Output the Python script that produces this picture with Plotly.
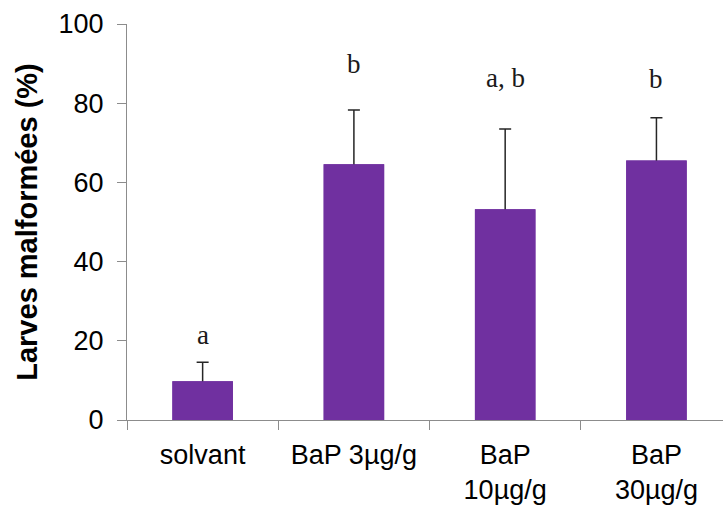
import plotly.graph_objects as go

# Malformed larvae per treatment (mean % and standard deviation)
categories = ["solvant", "BaP 3µg/g", "BaP<br>10µg/g", "BaP<br>30µg/g"]
means = [9.8, 64.6, 53.2, 65.5]
sd_upper = [4.8, 13.7, 20.3, 10.8]
letters = ["a", "b", "a, b", "b"]
letter_y = [21.5, 90.0, 86.4, 86.0]
y_ticks = [0, 20, 40, 60, 80, 100]

x_pos = list(range(len(categories)))
axis_grey = "#8c8c8c"
purple = "#7030A0"
bar_width = 0.40

fig = go.Figure()

# Bars carrying symmetric error bars; the lower half is hidden by the
# second, identical bar layer drawn on top.
fig.add_trace(go.Bar(
    x=x_pos,
    y=means,
    width=bar_width,
    marker=dict(color=purple, line=dict(width=0)),
    error_y=dict(
        type="data",
        array=sd_upper,
        color="#262626",
        thickness=1.5,
        width=6,
    ),
    showlegend=False,
))
fig.add_trace(go.Bar(
    x=x_pos,
    y=means,
    width=bar_width,
    marker=dict(color=purple, line=dict(width=0)),
    showlegend=False,
    hoverinfo="skip",
))

# Invisible trace carrying the category boundary ticks
fig.add_trace(go.Scatter(
    x=[-0.5, 3.5], y=[0, 0], xaxis="x2", mode="markers",
    marker=dict(opacity=0), showlegend=False, hoverinfo="skip",
))

for xi, txt, yy in zip(x_pos, letters, letter_y):
    fig.add_annotation(
        x=xi, y=yy, text=txt, showarrow=False,
        font=dict(family="Liberation Serif", size=27, color="#1a1a1a"),
        xanchor="center", yanchor="middle",
    )

x_range = [-0.5, 3.44]
tick_font = dict(family="Liberation Sans", size=27, color="#000000")

fig.update_layout(
    width=723,
    height=513,
    margin=dict(l=127, r=0, t=24, b=93),
    paper_bgcolor="white",
    plot_bgcolor="white",
    barmode="overlay",
    xaxis=dict(
        range=x_range,
        tickmode="array",
        tickvals=x_pos,
        ticktext=categories,
        ticks="",
        showline=True,
        linecolor=axis_grey,
        linewidth=1.2,
        showgrid=False,
        zeroline=False,
        tickfont=tick_font,
        ticklabelstandoff=10,
    ),
    xaxis2=dict(
        range=x_range,
        overlaying="x",
        side="bottom",
        anchor="y",
        tickmode="array",
        tickvals=[-0.5, 0.5, 1.5, 2.5, 3.5],
        ticks="outside",
        ticklen=9,
        tickwidth=1.2,
        tickcolor=axis_grey,
        showticklabels=False,
        showline=False,
        showgrid=False,
        zeroline=False,
    ),
    yaxis=dict(
        range=[0, 100],
        tickmode="array",
        tickvals=y_ticks,
        ticks="outside",
        ticklen=9,
        tickwidth=1.2,
        tickcolor=axis_grey,
        showline=True,
        linecolor=axis_grey,
        linewidth=1.2,
        showgrid=False,
        zeroline=False,
        tickfont=tick_font,
        ticklabelstandoff=8,
        title=dict(
            text="<b>Larves malformées (%)</b>",
            font=dict(family="Liberation Sans", size=29, color="#000000"),
            standoff=12,
        ),
    ),
)

fig.write_html("out.html")
